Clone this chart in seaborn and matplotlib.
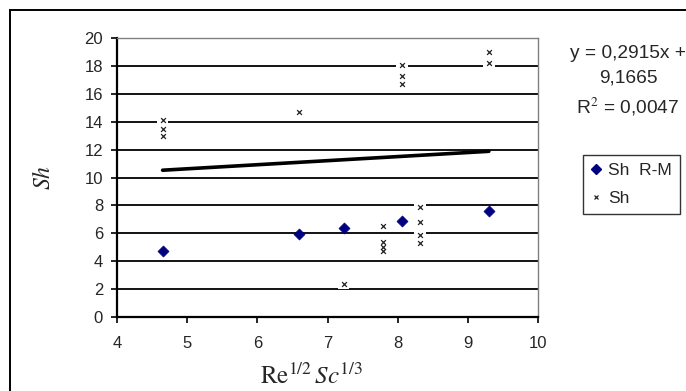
import numpy as np
import pandas as pd
import matplotlib
matplotlib.use("Agg")
import matplotlib.pyplot as plt
import matplotlib.patches as mpatches
import seaborn as sns

# Sh R-M series (blue diamonds)
rm_x = [4.65, 6.59, 7.23, 8.06, 9.30]
rm_y = [4.73, 5.95, 6.38, 6.85, 7.60]

# Sh series (small crosses)
sh_x = [4.65, 4.65, 4.65, 6.59, 7.23, 7.79, 7.79, 7.79, 7.79,
        8.06, 8.06, 8.06, 8.32, 8.32, 8.32, 8.32, 9.30, 9.30]
sh_y = [14.1, 13.5, 13.0, 14.7, 2.4, 6.5, 5.4, 5.0, 4.7,
        18.1, 17.3, 16.7, 7.9, 6.8, 5.9, 5.3, 19.0, 18.2]

# linear trend line (Excel)
fit_slope = 0.2915
fit_icept = 9.1665
fit_r2 = "0,0047"

x_ticks = [4, 5, 6, 7, 8, 9, 10]
y_ticks = [0, 2, 4, 6, 8, 10, 12, 14, 16, 18, 20]

sns.set_style("white")
plt.rcParams["font.family"] = ["Liberation Sans", "DejaVu Sans"]
plt.rcParams["mathtext.fontset"] = "stix"

df_rm = pd.DataFrame({"x": rm_x, "y": rm_y})
df_sh = pd.DataFrame({"x": sh_x, "y": sh_y})
xs = np.array([min(sh_x), max(sh_x)])
df_fit = pd.DataFrame({"x": xs, "y": fit_slope * xs + fit_icept})

fig = plt.figure(figsize=(6.86, 3.91), dpi=100)
ax = fig.add_axes([117 / 686, 74 / 391, 421 / 686, 279 / 391])

# horizontal gridlines
for yv in y_ticks[1:-1]:
    ax.axhline(yv, color="black", lw=1.3, zorder=0.5)

sns.lineplot(data=df_fit, x="x", y="y", color="black", lw=2.6, ax=ax, zorder=2.5)

# white boxes behind the crosses (Excel markers clear the gridlines)
sns.scatterplot(data=df_sh, x="x", y="y", marker="s", s=70, color="white",
                edgecolor="none", ax=ax, zorder=2, legend=False)
sns.scatterplot(data=df_sh, x="x", y="y", marker="x", s=12, color="#222222",
                linewidth=0.9, ax=ax, zorder=3, legend=False)
sns.scatterplot(data=df_rm, x="x", y="y", marker="D", s=32, color="#000080",
                edgecolor="#000080", ax=ax, zorder=4, legend=False)

ax.set_xlim(4, 10)
ax.set_ylim(0, 20)
ax.set_xticks(x_ticks)
ax.set_yticks(y_ticks)
ax.tick_params(axis="both", direction="out", length=4, width=1.2, color="black",
               labelsize=12)
ax.tick_params(axis="y", pad=6)
ax.tick_params(axis="x", pad=10)
ax.tick_params(left=True, bottom=True)

for side in ["left", "bottom"]:
    ax.spines[side].set_color("black")
    ax.spines[side].set_linewidth(1.6)
for side in ["top", "right"]:
    ax.spines[side].set_color("#808080")
    ax.spines[side].set_linewidth(1.0)

ax.set_xlabel("")
ax.set_ylabel("")
fig.text(312 / 686, 1 - 384 / 391, r"$\mathrm{Re}^{1/2}\,Sc^{1/3}$",
         ha="center", va="baseline", fontsize=18)
fig.text(44 / 686, 1 - 177 / 391, r"$Sh$", ha="center", va="center",
         rotation=90, fontsize=17)

# trend line equation
fig.text(628 / 686, 1 - 45 / 391,
         "y = 0,2915x +\n9,1665\nR$^2$ = " + fit_r2,
         ha="center", va="top", fontsize=13.8, linespacing=1.55)

# legend
h_rm = plt.Line2D([], [], marker="D", ls="", color="#000080", markersize=5.5)
h_sh = plt.Line2D([], [], marker="x", ls="", color="#222222", markersize=3.5,
                  markeredgewidth=0.9)
leg = fig.legend([h_rm, h_sh], ["Sh  R-M", "Sh"], loc="upper left",
                 bbox_to_anchor=(583 / 686, 1 - 155 / 391), fontsize=12.5,
                 frameon=True, fancybox=False, handlelength=0.6,
                 handletextpad=0.4, borderpad=0.45, labelspacing=0.75,
                 borderaxespad=0)
leg.get_frame().set_edgecolor("black")
leg.get_frame().set_linewidth(1.0)

# outer chart border (cropped on right and bottom)
fig.add_artist(mpatches.Rectangle((10 / 686, -0.2), 2.0, 1.2 - 10 / 391,
                                  transform=fig.transFigure, fill=False,
                                  edgecolor="black", lw=1.4, clip_on=False))

fig.savefig("out.png", dpi=100)
